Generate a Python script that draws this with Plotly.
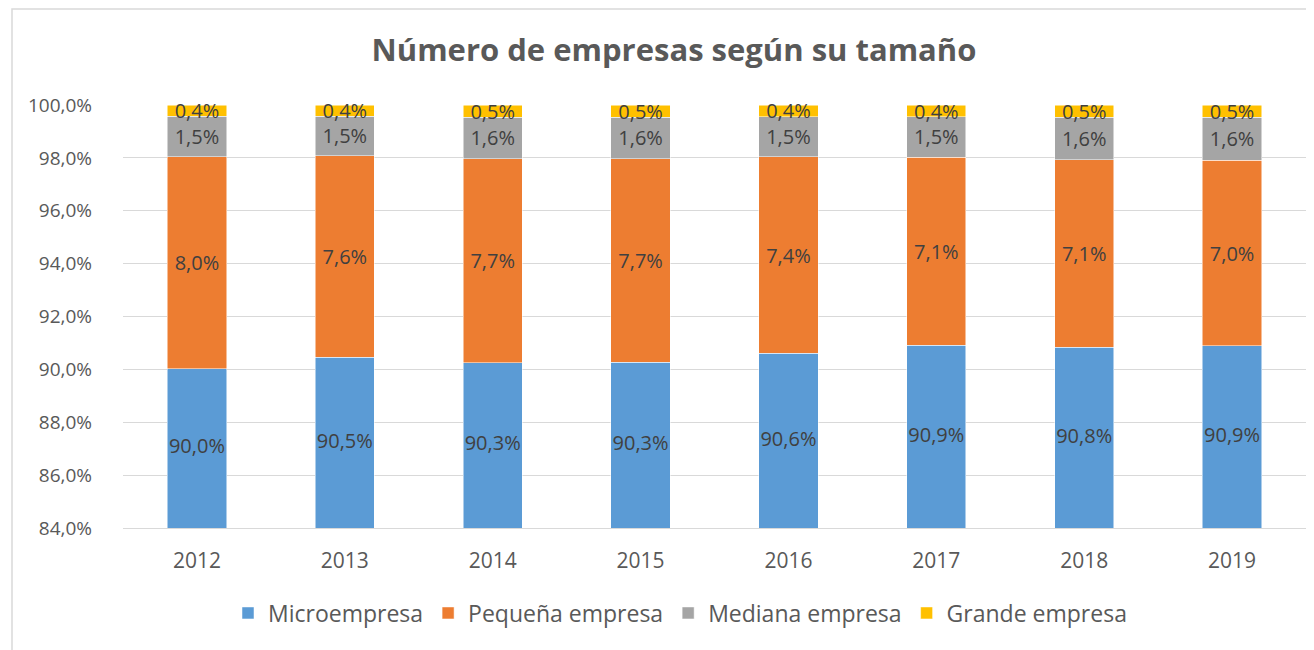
import plotly.graph_objects as go

years = ["2012", "2013", "2014", "2015", "2016", "2017", "2018", "2019"]
micro = [90.02, 90.46, 90.26, 90.27, 90.61, 90.91, 90.84, 90.89]
pequena = [8.02, 7.62, 7.71, 7.70, 7.43, 7.12, 7.08, 7.02]
mediana = [1.53, 1.50, 1.57, 1.57, 1.52, 1.52, 1.61, 1.62]
grande = [0.42, 0.41, 0.46, 0.46, 0.43, 0.44, 0.46, 0.46]

series = [
    ("Microempresa", micro, "#5B9BD5"),
    ("Pequeña empresa", pequena, "#ED7D31"),
    ("Mediana empresa", mediana, "#A5A5A5"),
    ("Grande empresa", grande, "#FFC000"),
]
y_min, y_max = 84, 100
tick_vals = [84, 86, 88, 90, 92, 94, 96, 98, 100]

FONT = "Open Sans"
LABEL_SIZE = 20
fig = go.Figure()
for i, (name, vals, color) in enumerate(series):
    fig.add_trace(go.Bar(
        x=years, y=vals, name=name,
        marker=dict(color=color, line=dict(color="white", width=0.5)),
        texttemplate="%{y:.1f}%" if i > 0 else None,
        textposition="inside" if i > 0 else "none",
        insidetextanchor="middle",
        constraintext="none",
        textangle=0,
        insidetextfont=dict(family=FONT, size=LABEL_SIZE, color="#404040"),
        cliponaxis=False,
        hoverinfo="skip",
    ))

# labels for the first segment, centred in its visible part (axis starts at 84%)
fig.add_trace(go.Scatter(
    x=years, y=[(y_min + v) / 2 for v in micro],
    mode="text", text=[f"{v:.1f}%".replace(".", ",") for v in micro],
    textposition="middle center",
    textfont=dict(family=FONT, size=LABEL_SIZE, color="#404040"),
    showlegend=False, hoverinfo="skip",
))

# page has an 8px body margin; figure coordinates = page - 8
W, H = 1306, 642
L, R, T, B = 115, 1298, 97, 520
pw, ph = R - L, B - T

def px_x(px):
    return (px - L) / pw

def px_y(py):
    return (B - py) / ph

fig.update_layout(
    barmode="stack",
    bargap=0.6,
    width=W, height=H,
    margin=dict(l=L, r=W - R, t=T, b=H - B, pad=0),
    paper_bgcolor="white",
    plot_bgcolor="white",
    separators=",.",
    font=dict(family=FONT, color="#595959", size=20),
    title=dict(
        text="<b>Número de empresas según su tamaño</b>",
        x=px_x(666), xref="paper", xanchor="center",
        y=1 - 42 / H, yref="container", yanchor="middle",
        font=dict(family=FONT, size=31, color="#595959"),
    ),
    xaxis=dict(
        showgrid=False, showline=True, linecolor="#d9d9d9", linewidth=1,
        ticks="", tickfont=dict(family=FONT, size=21, color="#595959"),
        ticklabelstandoff=14,
    ),
    yaxis=dict(
        range=[y_min, y_max], tickvals=tick_vals,
        ticktext=[f"{v:.1f}%".replace(".", ",") for v in tick_vals],
        showgrid=True, gridcolor="#d9d9d9", gridwidth=1,
        zeroline=False, showline=False, ticks="",
        tickfont=dict(family=FONT, size=19, color="#595959"),
        ticklabelstandoff=30,
    ),
    legend=dict(
        orientation="h", x=px_x(672), xanchor="center",
        y=px_y(605), yanchor="middle",
        font=dict(family=FONT, size=23, color="#595959"),
        traceorder="normal",
    ),
    showlegend=True,
    shapes=[dict(
        type="rect", xref="paper", yref="paper",
        x0=px_x(4), x1=px_x(1305),
        y0=px_y(660), y1=px_y(1),
        line=dict(color="#d9d9d9", width=1.5), fillcolor="rgba(0,0,0,0)",
        layer="below",
    )],
)

fig.write_html("out.html")
